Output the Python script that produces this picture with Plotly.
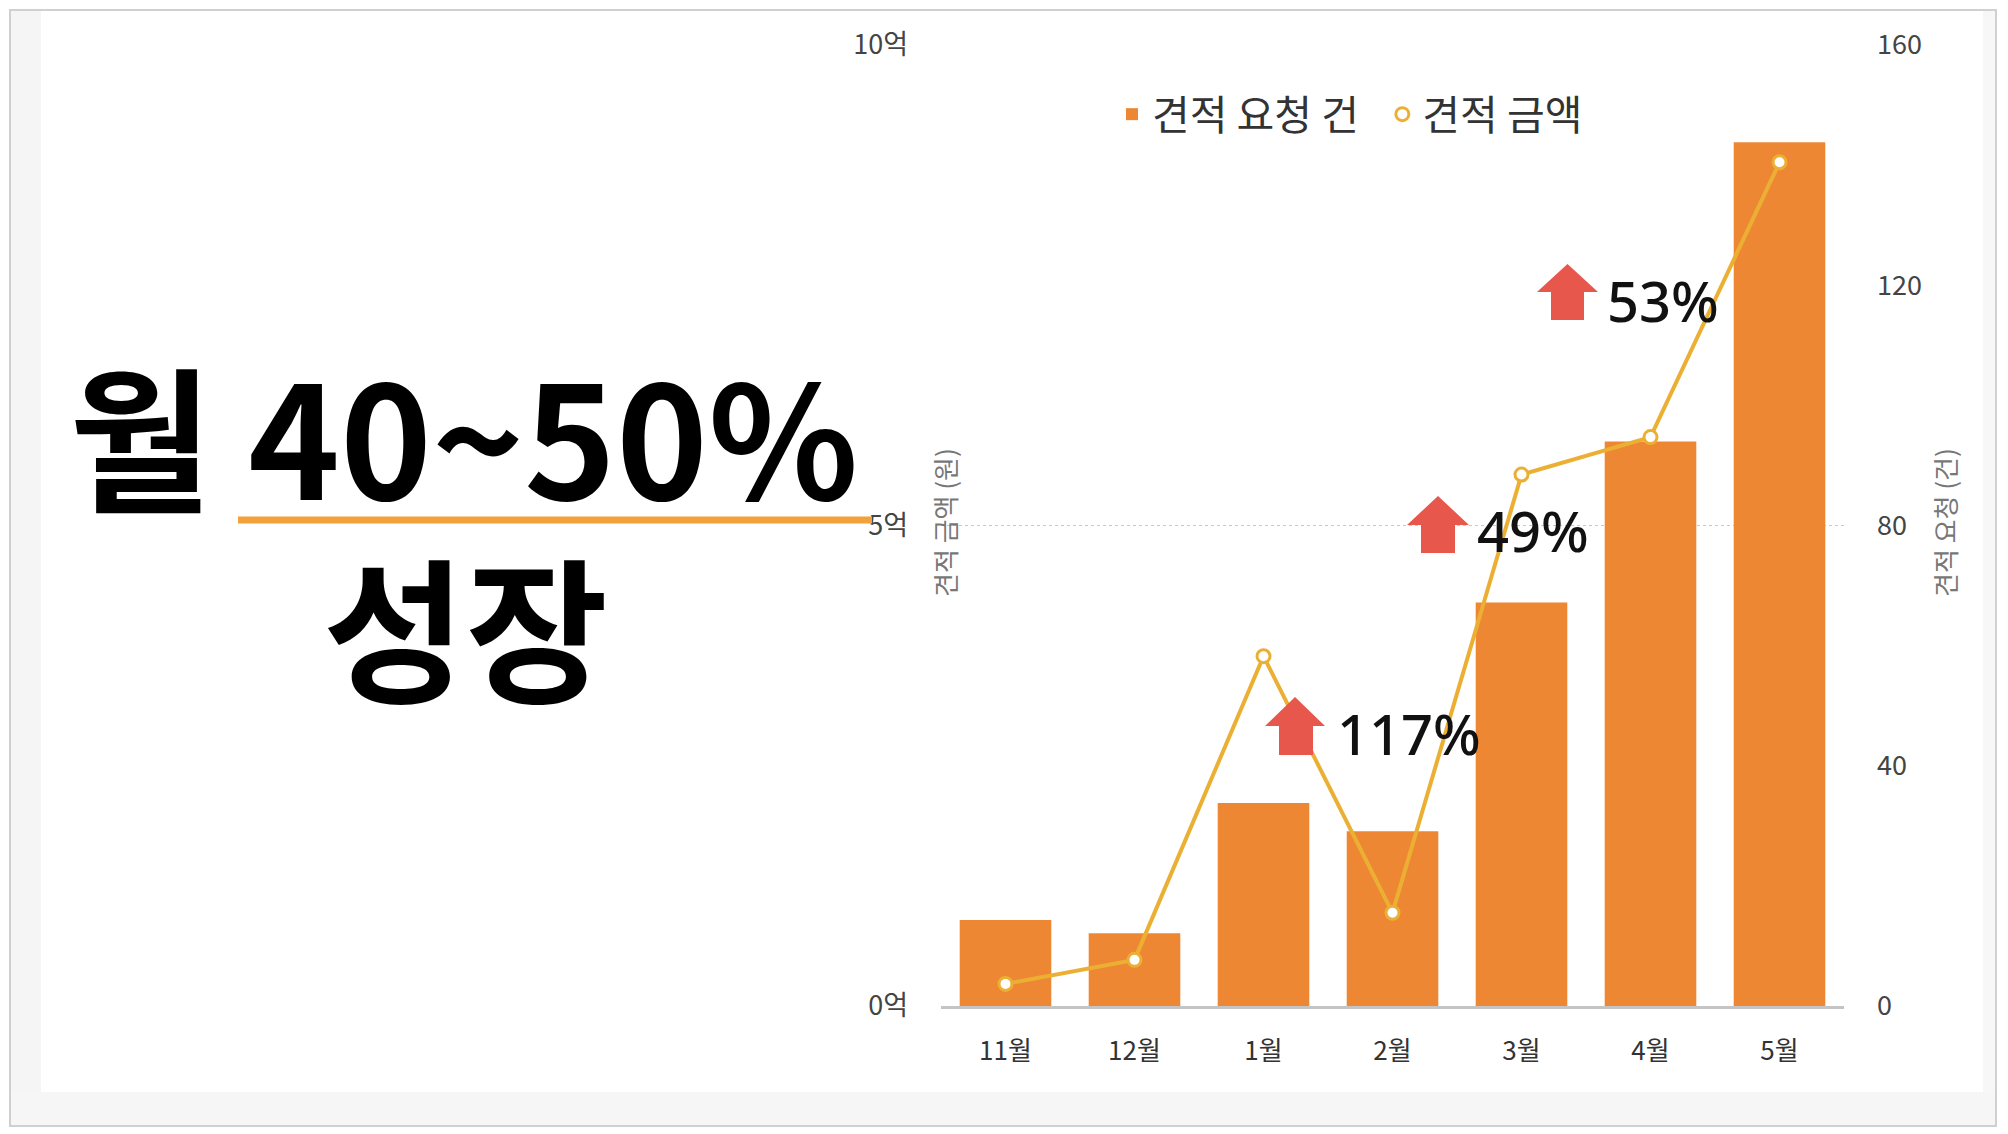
import plotly.graph_objects as go

# data
months = ['11월', '12월', '1월', '2월', '3월', '4월', '5월']
request_counts = [14.3, 12.1, 33.8, 29.1, 67.2, 94.0, 143.8]      # 견적 요청 (건)
quote_amounts = [0.23, 0.48, 3.64, 0.97, 5.53, 5.92, 8.78]        # 견적 금액 (억 원)

growth_labels = ['117%', '49%', '53%']

left_ticks = [0, 5, 10]
left_ticktext = ['0억', '5억', '10억']
right_ticks = [0, 40, 80, 120, 160]

W, H = 2008, 1134
OFF = 8   # the page body adds an 8px margin, so positions are shifted back by it
BAR_COLOR = '#EE8733'
LINE_COLOR = '#EBB033'
ARROW_COLOR = '#E8574B'
KR = 'Noto Sans CJK KR'


def px(x):
    return (x - OFF) / W


def py(y):
    return 1 - (y - OFF) / H


fig = go.Figure()

fig.add_trace(go.Bar(x=months, y=request_counts, name='견적 요청 건\u00a0\u00a0',
                     marker=dict(color=BAR_COLOR, line_width=0),
                     width=0.71, yaxis='y'))
fig.add_trace(go.Scatter(x=months, y=quote_amounts, mode='lines+markers',
                         line=dict(color=LINE_COLOR, width=4),
                         marker=dict(size=13, color='white',
                                     line=dict(color=LINE_COLOR, width=3)),
                         showlegend=False, yaxis='y2'))
# legend-only entry: just the ring marker
fig.add_trace(go.Scatter(x=[None], y=[None], mode='markers', name='견적 금액',
                         marker=dict(size=13, color='white',
                                     line=dict(color=LINE_COLOR, width=3)),
                         yaxis='y2'))

# frame of the slide
shapes = [
    dict(type='rect', xref='paper', yref='paper', x0=px(10), x1=px(41), y0=py(1092), y1=py(10),
         fillcolor='#f5f5f5', line_width=0, layer='below'),
    dict(type='rect', xref='paper', yref='paper', x0=px(1983), x1=px(1996), y0=py(1092), y1=py(10),
         fillcolor='#f7f7f7', line_width=0, layer='below'),
    dict(type='rect', xref='paper', yref='paper', x0=px(10), x1=px(1996), y0=py(1126), y1=py(1092),
         fillcolor='#f6f6f6', line_width=0, layer='below'),
    dict(type='rect', xref='paper', yref='paper', x0=px(10), x1=px(1996), y0=py(1126), y1=py(10),
         line=dict(color='#d0d0d0', width=2), layer='below'),
    # underline below the headline
    dict(type='line', xref='paper', yref='paper', x0=px(238), x1=px(872), y0=py(520), y1=py(520),
         line=dict(color='#F2A23A', width=7)),
]

# red up arrows: (left, right, top, head base, shaft left, shaft right, bottom)
arrows = [
    (1265, 1325, 697, 726, 1279, 1313, 755),
    (1407, 1469, 496, 525, 1421, 1455, 553),
    (1537, 1598, 264, 292, 1551, 1584, 320),
]
for l, r, t, hb, sl, sr, b in arrows:
    cx = (l + r) / 2
    pts = [(cx, t), (r, hb), (sr, hb), (sr, b), (sl, b), (sl, hb), (l, hb)]
    path = 'M ' + ' L '.join(f'{px(x):.5f},{py(y):.5f}' for x, y in pts) + ' Z'
    shapes.append(dict(type='path', xref='paper', yref='paper', path=path,
                       fillcolor=ARROW_COLOR, line_width=0))

annotations = [
    dict(text='<b>월 40~50%</b>', x=px(463), y=py(432), xref='paper', yref='paper',
         xanchor='center', yanchor='middle', showarrow=False,
         font=dict(family=KR, size=156, color='#000')),
    dict(text='<b>성장</b>', x=px(465), y=py(622), xref='paper', yref='paper',
         xanchor='center', yanchor='middle', showarrow=False,
         font=dict(family=KR, size=155, color='#000')),
    dict(text='견적 금액 (원)', x=px(944), y=py(523), xref='paper', yref='paper',
         xanchor='center', yanchor='middle', textangle=-90, showarrow=False,
         font=dict(family=KR, size=26, color='#777')),
    dict(text='견적 요청 (건)', x=px(1944), y=py(523), xref='paper', yref='paper',
         xanchor='center', yanchor='middle', textangle=-90, showarrow=False,
         font=dict(family=KR, size=26, color='#777')),
]
label_pos = [(1335, 733), (1475, 530), (1605, 300)]
for txt, (x, y) in zip(growth_labels, label_pos):
    annotations.append(dict(text=txt, x=px(x), y=py(y), xref='paper', yref='paper',
                            xanchor='left', yanchor='middle', showarrow=False,
                            font=dict(family='Noto Sans', size=56, color='#111', weight=500)))

fig.update_layout(
    width=W, height=H,
    margin=dict(l=0, r=0, t=0, b=0, autoexpand=False),
    paper_bgcolor='white', plot_bgcolor='rgba(0,0,0,0)',
    font=dict(family=KR, color='#444'),
    bargap=0.29,
    xaxis=dict(domain=[px(941), px(1844)], showline=True, linecolor='#c4c4c4', linewidth=3,
               showgrid=False, ticks='', ticklabelstandoff=20, automargin=False,
               tickfont=dict(family=KR, size=26, color='#333')),
    yaxis=dict(side='right', range=[0, 160], tickvals=right_ticks, showgrid=False,
               zeroline=False, ticklabelstandoff=32, domain=[py(1006), py(45)],
               automargin=False, tickfont=dict(family=KR, size=27, color='#444')),
    yaxis2=dict(side='left', overlaying='y', range=[0, 10], tickvals=left_ticks,
                ticktext=left_ticktext, showgrid=True, gridcolor='#c8c8c8', griddash='dot',
                gridwidth=1, zeroline=False, ticklabelstandoff=32, automargin=False,
                tickfont=dict(family=KR, size=27, color='#444')),
    legend=dict(orientation='h', x=px(1112), y=py(81), xanchor='left', yanchor='top',
                font=dict(family=KR, size=41, color='#333'), itemwidth=30,
                bgcolor='rgba(0,0,0,0)', traceorder='normal'),
    shapes=shapes,
    annotations=annotations,
)

fig.write_html('out.html')
